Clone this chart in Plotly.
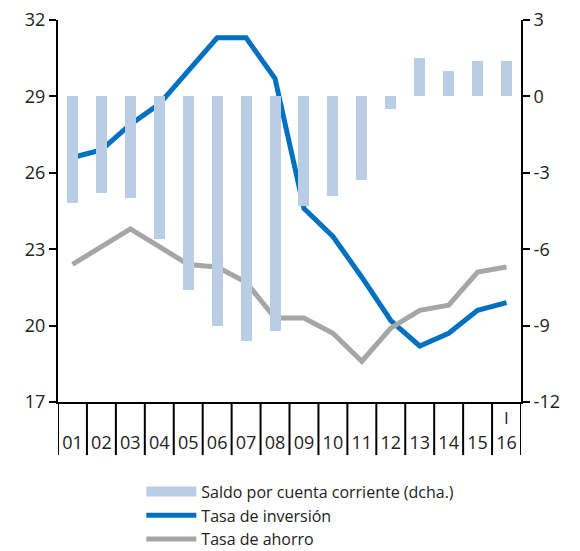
import plotly.graph_objects as go

# Datos
anios = ["01", "02", "03", "04", "05", "06", "07", "08",
         "09", "10", "11", "12", "13", "14", "15", "16"]
etiqueta_sup = [""] * 15 + ["I"]

saldo_cc = [-4.2, -3.8, -4.0, -5.6, -7.6, -9.0, -9.6, -9.2,
            -4.3, -3.9, -3.3, -0.5, 1.5, 1.0, 1.4, 1.4]
tasa_inversion = [26.6, 26.9, 27.9, 28.7, 30.0, 31.3, 31.3, 29.7,
                  24.6, 23.5, 21.9, 20.2, 19.2, 19.7, 20.6, 20.9]
tasa_ahorro = [22.4, 23.1, 23.8, 23.1, 22.4, 22.3, 21.7, 20.3,
               20.3, 19.7, 18.6, 19.9, 20.6, 20.8, 22.1, 22.3]

ticks_dcha = [-12, -9, -6, -3, 0, 3]
textos_dcha = ["-12", "-9", "-6", "-3", "0", "3"]

azul_claro = "#b9cde5"
azul = "#0070c0"
gris = "#a6a6a6"
fuente = "Open Sans"

fig = go.Figure()

# barras (eje derecho) - sin leyenda propia, se usa una traza auxiliar
fig.add_trace(go.Bar(x=anios, y=saldo_cc, yaxis="y2", width=0.38,
                     marker=dict(color=azul_claro, line=dict(width=0)),
                     showlegend=False))
fig.add_trace(go.Scatter(x=[None], y=[None], yaxis="y2", mode="lines",
                         line=dict(color=azul_claro, width=12),
                         name="Saldo por cuenta corriente (dcha.)"))
fig.add_trace(go.Scatter(x=anios, y=tasa_inversion, mode="lines",
                         line=dict(color=azul, width=5),
                         name="Tasa de inversión"))
fig.add_trace(go.Scatter(x=anios, y=tasa_ahorro, mode="lines",
                         line=dict(color=gris, width=5),
                         name="Tasa de ahorro"))

# lineas separadoras bajo el eje x
formas = []
for i in range(len(anios) + 1):
    formas.append(dict(type="line", xref="x", yref="paper",
                       x0=i - 0.5, x1=i - 0.5, y0=0, y1=-0.139,
                       line=dict(color="black", width=2)))

# "I" encima del 16
notas = []
for i, t in enumerate(etiqueta_sup):
    if t:
        notas.append(dict(x=i, y=-0.006, xref="x", yref="paper", text=t,
                          showarrow=False, yanchor="top",
                          font=dict(family=fuente, size=17, color="#222")))

# la pagina tiene 8 px de margen, la figura se ajusta a ello
fig.update_layout(
    width=572, height=543,
    margin=dict(l=50, r=59, t=12, b=149, autoexpand=False),
    plot_bgcolor="white", paper_bgcolor="white",
    font=dict(family=fuente, size=18, color="#222"),
    bargap=0,
    shapes=formas,
    annotations=notas,
    xaxis=dict(type="category", range=[-0.5, 15.5], showline=True,
               linecolor="black", linewidth=2, ticks="outside",
               ticklen=23, tickcolor="rgba(0,0,0,0)", showgrid=False,
               tickfont=dict(size=18)),
    yaxis=dict(range=[17, 32], tick0=17, dtick=3, showline=True,
               linecolor="black", linewidth=2, ticks="outside", ticklen=7,
               tickwidth=2, tickcolor="black", showgrid=False,
               zeroline=False, ticklabeloverflow="allow"),
    yaxis2=dict(range=[-12, 3], tickvals=ticks_dcha, ticktext=textos_dcha,
                overlaying="y", side="right", showline=True,
                linecolor="black", linewidth=2, ticks="outside", ticklen=7,
                tickwidth=2, tickcolor="black", showgrid=False,
                zeroline=False, ticklabeloverflow="allow"),
    legend=dict(x=0.18, y=-0.19, xanchor="left", yanchor="top",
                orientation="v", font=dict(size=16), tracegroupgap=0,
                itemwidth=50, bgcolor="rgba(0,0,0,0)"),
)

fig.write_html("out.html")
